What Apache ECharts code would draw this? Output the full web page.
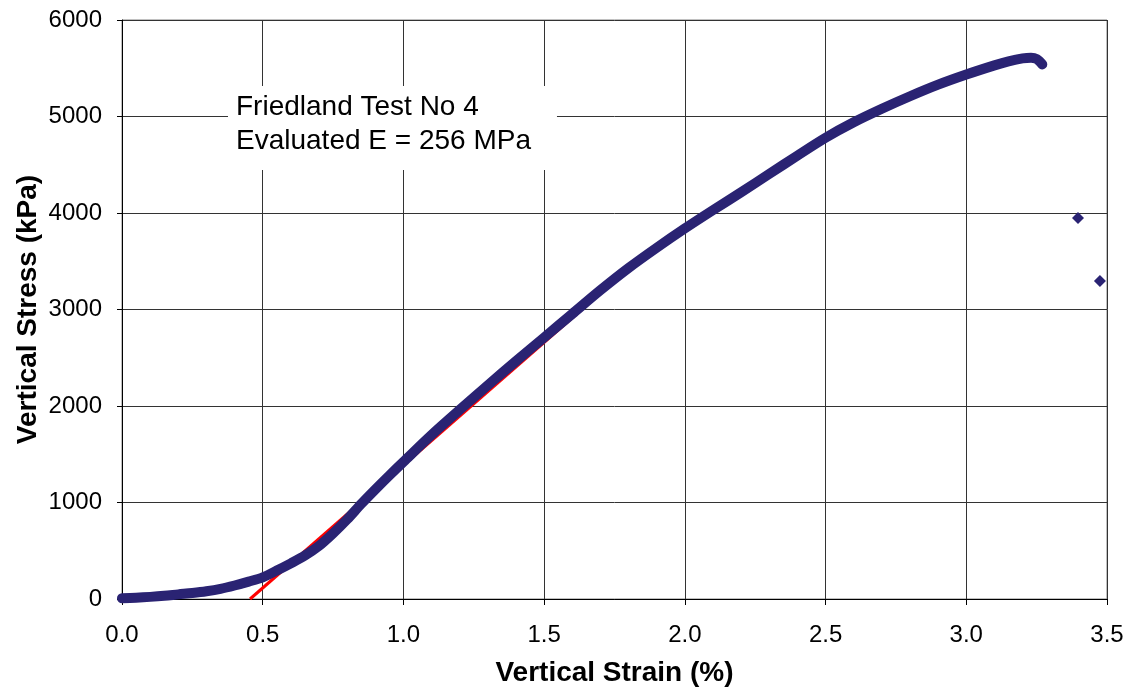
<!DOCTYPE html>
<html>
<head>
<meta charset="utf-8">
<script src="https://cdn.jsdelivr.net/npm/echarts@6/dist/echarts.min.js"></script>
<style>
html, body { margin: 0; padding: 0; background: #fff; }
#container { width: 1138px; height: 698px; }
</style>
</head>
<body>
<div id="container"></div>
<script>
// measured curve: vertical strain (%) vs vertical stress (kPa)
var strain = [0, 0.05, 0.1, 0.15, 0.2, 0.25, 0.3, 0.35, 0.4, 0.45, 0.5, 0.55, 0.6, 0.65, 0.7, 0.75, 0.8, 0.85, 0.9, 0.95,
    1.0, 1.1, 1.2, 1.3, 1.4, 1.5, 1.6, 1.7, 1.8, 1.9, 2.0, 2.1, 2.2, 2.3, 2.4, 2.5, 2.6, 2.7, 2.8, 2.9, 3.0, 3.1, 3.15, 3.2, 3.23, 3.25, 3.27];
var stress = [8, 14, 22, 33, 48, 62, 80, 105, 140, 180, 225, 295, 370, 450, 550, 680, 825, 985, 1135, 1280,
    1421, 1700, 1960, 2215, 2465, 2710, 2955, 3200, 3430, 3640, 3840, 4030, 4215, 4405, 4595, 4780, 4940, 5080, 5210, 5330, 5435, 5530, 5572, 5603, 5610, 5595, 5540];

// stray readings after failure
var strayStrain = [3.397, 3.475];
var strayStress = [3948, 3295];

// fitted modulus line (E = 256 MPa)
var fitStrain = [0.455, 1.83];
var fitStress = [0, 3500];

var xTicks = { min: 0, max: 3.5, interval: 0.5 };
var yTicks = { min: 0, max: 6000, interval: 1000 };

var curveColor = '#2a2373';
var font = 'Liberation Sans, Arial, sans-serif';

function pairs(xs, ys) {
    var out = [];
    for (var i = 0; i < xs.length; i++) {
        out.push([xs[i], ys[i]]);
    }
    return out;
}

var myChart = echarts.init(document.getElementById('container'));

var option = {
    backgroundColor: '#fff',
    animation: false,
    title: {
        text: 'Friedland Test No 4\nEvaluated E = 256 MPa',
        left: 228,
        top: 86,
        padding: [4, 26, 12, 8],
        backgroundColor: '#fff',
        textStyle: {
            fontFamily: font,
            fontSize: 28,
            fontWeight: 'normal',
            color: '#000',
            lineHeight: 34
        }
    },
    grid: {
        left: 122,
        right: 31,
        top: 20,
        bottom: 99,
        containLabel: false,
        outerBoundsMode: 'none',
        show: true,
        borderColor: '#808080',
        borderWidth: 1
    },
    xAxis: {
        type: 'value',
        min: xTicks.min,
        max: xTicks.max,
        interval: xTicks.interval,
        name: 'Vertical Strain (%)',
        nameLocation: 'middle',
        nameGap: 60,
        nameMoveOverlap: false,
        nameTextStyle: { fontFamily: font, fontSize: 28, fontWeight: 'bold', color: '#000' },
        axisLine: { lineStyle: { color: '#000', width: 1 } },
        axisTick: { show: true, inside: false, length: 6, lineStyle: { color: '#000' } },
        axisLabel: {
            fontFamily: font, fontSize: 24, color: '#000', margin: 24,
            formatter: function (v) { return v.toFixed(1); }
        },
        splitLine: { show: true, lineStyle: { color: '#333', width: 1 } }
    },
    yAxis: {
        type: 'value',
        min: yTicks.min,
        max: yTicks.max,
        interval: yTicks.interval,
        name: 'Vertical Stress (kPa)',
        nameLocation: 'middle',
        nameGap: 80,
        nameMoveOverlap: false,
        nameTextStyle: { fontFamily: font, fontSize: 28, fontWeight: 'bold', color: '#000' },
        axisLine: { show: true, lineStyle: { color: '#000', width: 1 } },
        axisTick: { show: true, inside: false, length: 5, lineStyle: { color: '#000' } },
        axisLabel: {
            fontFamily: font, fontSize: 24, color: '#000', margin: 20,
            formatter: function (v) { return String(v); }
        },
        splitLine: { show: true, lineStyle: { color: '#333', width: 1 } }
    },
    series: [
        {
            name: 'fit',
            type: 'line',
            data: pairs(fitStrain, fitStress),
            symbol: 'none',
            z: 2,
            lineStyle: { color: '#ff0000', width: 3 }
        },
        {
            name: 'test',
            type: 'line',
            data: pairs(strain, stress),
            symbol: 'none',
            smooth: 0.3,
            z: 3,
            lineStyle: { color: curveColor, width: 10, cap: 'round', join: 'round' }
        },
        {
            name: 'stray',
            type: 'scatter',
            data: pairs(strayStrain, strayStress),
            symbol: 'diamond',
            symbolSize: 12,
            z: 3,
            itemStyle: { color: curveColor, opacity: 1 }
        }
    ]
};

myChart.setOption(option);
</script>
</body>
</html>
